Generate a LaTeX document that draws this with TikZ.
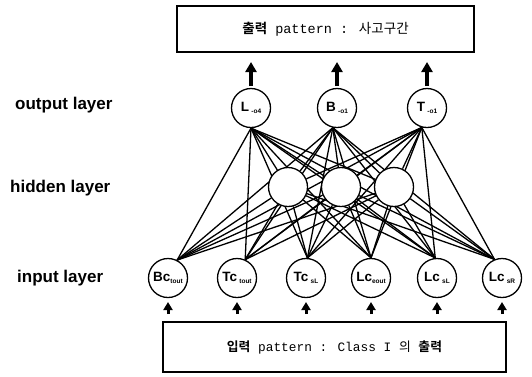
\documentclass[tikz,border=0pt]{standalone}
\usepackage{fontspec}
\setmainfont{Liberation Sans}
\newfontfamily\monofont{Liberation Mono}
\newfontfamily\kofont[BoldFont={Noto Sans CJK KR Bold}]{Noto Sans CJK KR}
\usetikzlibrary{arrows.meta,backgrounds}

% small lowered index used inside the neurons
\newcommand\lowtag[1]{\raisebox{-2.5pt}{\fontsize{6.5}{6.5}\selectfont #1}}

\begin{document}
\begin{tikzpicture}[x=1pt,y=-1pt,
  neuron/.style={circle,draw,fill=white,line width=1.3pt,minimum size=39pt,
    inner sep=0pt,font=\bfseries\fontsize{13.5}{13.5}\selectfont},
  link/.style={line width=1.3pt},
  layerlabel/.style={anchor=west,inner sep=0pt,font=\bfseries\fontsize{17}{17}\selectfont},
  patternbox/.style={draw,line width=1.1pt,inner sep=0pt,
    font=\monofont\fontsize{13.5}{13.5}\selectfont},
  bigarrow/.style={line width=3.4pt,-{Triangle[width=11pt,length=10pt]}},
  smallarrow/.style={line width=3pt,-{Triangle[width=9pt,length=8pt]}}]
\useasboundingbox (0,0) rectangle (532,376);

% pattern boxes
\node[patternbox,minimum width=297pt,minimum height=46pt] (outbox) at (325.5,29)
  {{\kofont\bfseries 출력} pattern : {\kofont 사고구간}};
\node[patternbox,minimum width=343pt,minimum height=50pt,
  font=\monofont\fontsize{12.8}{12.8}\selectfont] (inbox) at (334.5,347)
  {{\kofont\bfseries 입력} pattern : Class I {\kofont 의} {\kofont\bfseries 출력}};

% layer labels
\node[layerlabel] (lout) at (15,105) {output layer};
\node[layerlabel] (lhid) at (10,188) {hidden layer};
\node[layerlabel] (lin)  at (17,278) {input layer};

% output layer
\node[neuron] (out1) at (251,108) {L\,\lowtag{-o4}};
\node[neuron] (out2) at (337,108) {B\,\lowtag{-o1}};
\node[neuron] (out3) at (427,108) {T\,\lowtag{-o1}};

% hidden layer
\node[neuron] (hid1) at (288,187) {};
\node[neuron] (hid2) at (341,187) {};
\node[neuron] (hid3) at (394,187) {};

% input layer
\node[neuron] (in1) at (168,278) {Bc\lowtag{tout}};
\node[neuron] (in2) at (237,278) {Tc\,\lowtag{tout}};
\node[neuron] (in3) at (306,278) {Tc\,\lowtag{sL}};
\node[neuron] (in4) at (371,278) {Lc\lowtag{eout}};
\node[neuron] (in5) at (437,278) {Lc\,\lowtag{sL}};
\node[neuron] (in6) at (502,278) {Lc\,\lowtag{sR}};

% points where the links meet each neuron
\foreach \i/\a in {1/63,2/66,3/86,4/90,5/95,6/112}
  \coordinate (p\i) at (in\i.\a);
\foreach \o/\a in {1/270,2/258,3/255}
  \coordinate (q\o) at (out\o.\a);

% links, kept behind the neurons
\begin{pgfonlayer}{background}
  \foreach \i in {1,...,6} {
    \foreach \h in {1,2,3} \draw[link] (p\i) -- (hid\h);
    \foreach \o in {1,2,3} \draw[link] (p\i) -- (q\o);
  }
  \foreach \h in {1,2,3}
    \foreach \o in {1,2,3} \draw[link] (hid\h) -- (q\o);
\end{pgfonlayer}

% output arrows
\foreach \o/\x in {1/251,2/337,3/427} {
  \coordinate (ta\o) at (\x,86);
  \coordinate (tb\o) at (\x,62);
  \draw[bigarrow] (ta\o) -- (tb\o);
}
% input arrows
\foreach \i/\x in {1/168,2/237,3/306,4/371,5/437,6/502} {
  \coordinate (ba\i) at (\x,314);
  \coordinate (bb\i) at (\x,302);
  \draw[smallarrow] (ba\i) -- (bb\i);
}
\end{tikzpicture}
\end{document}
